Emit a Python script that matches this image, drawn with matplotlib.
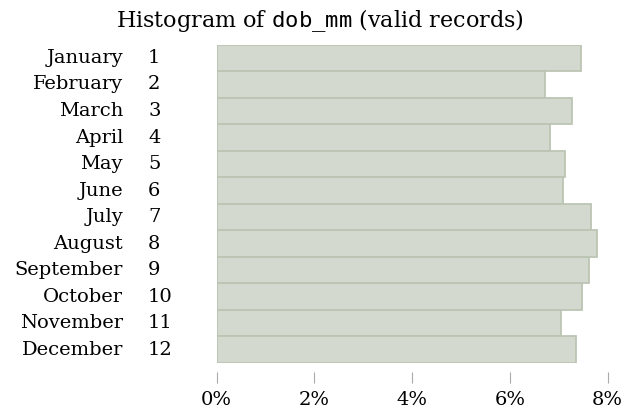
import matplotlib
matplotlib.use("Agg")
import matplotlib.pyplot as plt
import matplotlib.transforms as mtransforms
from matplotlib.ticker import FuncFormatter

# share of valid records per birth month (percent)
months = ["January", "February", "March", "April", "May", "June", "July",
          "August", "September", "October", "November", "December"]
month_nums = [1, 2, 3, 4, 5, 6, 7, 8, 9, 10, 11, 12]
pct = [7.46, 6.71, 7.26, 6.82, 7.12, 7.08, 7.65, 7.78, 7.61, 7.47, 7.04, 7.36]
xticks = [0, 2, 4, 6, 8]

plt.rcParams['font.family'] = ['DejaVu Serif']
plt.rcParams['mathtext.fontset'] = 'custom'
plt.rcParams['mathtext.rm'] = 'DejaVu Serif'
plt.rcParams['mathtext.tt'] = 'DejaVu Sans Mono'

W, H = 626, 418
fig = plt.figure(figsize=(W / 100, H / 100), dpi=100)
ax = fig.add_axes([216.7 / W, 1 - 363 / H, (607.7 - 216.7) / W, (363 - 44.7) / H])

ypos = list(range(len(months)))
ax.barh(ypos, pct, height=1.0, color="#d3d9cf", edgecolor="#bcc5b4", linewidth=1.3)
ax.set_ylim(len(months) - 0.5, -0.5)
ax.set_xlim(0, 8)

for s in ["top", "right", "left"]:
    ax.spines[s].set_visible(False)
ax.spines["bottom"].set_position(("outward", 6.5))
ax.spines["bottom"].set_visible(False)

ax.set_xticks(xticks)
ax.xaxis.set_major_formatter(FuncFormatter(lambda v, p: f"{v:.0f}%"))
ax.tick_params(axis="x", length=8, width=0.8, color="#aaaaaa", pad=6, labelsize=14)
ax.set_yticks([])

# month name right-aligned, number left-aligned, like a two-column label
trans = mtransforms.blended_transform_factory(fig.transFigure, ax.transData)
for y, name, num in zip(ypos, months, month_nums):
    ax.text(123 / W, y, name, transform=trans, ha="right", va="center", fontsize=14)
    ax.text(148 / W, y, str(num), transform=trans, ha="left", va="center", fontsize=14)

fig.text(320 / W, 1 - 20 / H, r"Histogram of $\mathtt{dob\_mm}$ (valid records)",
         ha="center", va="center", fontsize=16)

fig.savefig("out.png", dpi=100)
